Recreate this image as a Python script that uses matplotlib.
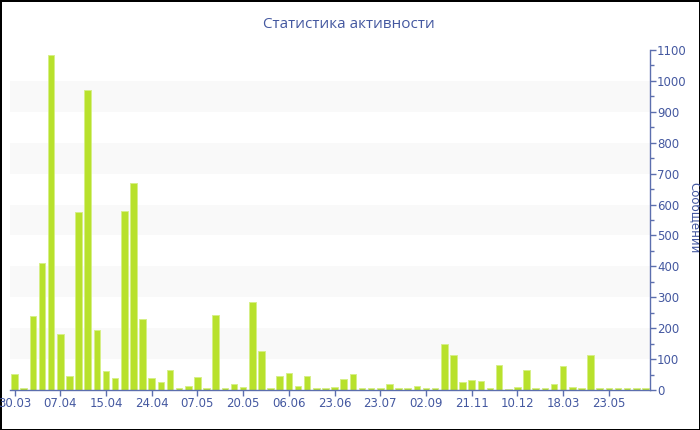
import matplotlib
matplotlib.use("Agg")
import matplotlib.pyplot as plt
from matplotlib.ticker import MultipleLocator
import numpy as np

# messages per period (70 bars)
messages = [52, 6, 239, 410, 1085, 181, 46, 576, 969, 194,
            60, 40, 578, 669, 231, 40, 27, 66, 7, 13,
            42, 6, 244, 5, 19, 9, 284, 125, 7, 46,
            54, 12, 44, 5, 6, 9, 35, 51, 6, 6,
            6, 20, 6, 5, 12, 5, 6, 148, 112, 25,
            32, 28, 6, 82, 4, 9, 65, 5, 7, 20,
            77, 9, 5, 114, 5, 5, 5, 5, 5, 7]
# only every 5th bar carries a label
tick_labels = ["30.03", "07.04", "15.04", "24.04", "07.05", "20.05", "06.06",
               "23.06", "23.07", "02.09", "21.11", "10.12", "18.03", "23.05"]
title = "Статистика активности"
y_title = "Сообщений"

blue = "#4458a0"
axis_blue = "#5c6fae"
bar_green = "#b8e12c"

fig = plt.figure(figsize=(7, 4.3), dpi=100)
fig.patch.set_facecolor("white")
fig.patch.set_edgecolor("black")
fig.patch.set_linewidth(2)

ax = fig.add_axes([10 / 700, 1 - 390 / 430, 640 / 700, 340 / 430])

# alternating light bands
for lo in range(100, 1100, 200):
    ax.axhspan(lo, lo + 100, color="#f9f9f9", zorder=0, lw=0)

x = np.arange(len(messages))
ax.bar(x, messages, width=0.72, color=bar_green, edgecolor="#d6ef88",
       linewidth=0.7, zorder=2)

ax.set_xlim(-0.5, len(messages) - 0.5)
ax.set_ylim(0, 1100)

ax.set_xticks(x[::5][:len(tick_labels)])
ax.set_xticklabels(tick_labels)

ax.yaxis.tick_right()
ax.yaxis.set_label_position("right")
ax.yaxis.set_major_locator(MultipleLocator(100))
ax.yaxis.set_minor_locator(MultipleLocator(50))

for side in ["left", "top"]:
    ax.spines[side].set_visible(False)
for side in ["right", "bottom"]:
    ax.spines[side].set_color(axis_blue)
    ax.spines[side].set_linewidth(1)

ax.tick_params(axis="x", colors=axis_blue, labelcolor=blue, labelsize=8.5,
               length=4, width=1, pad=1)
ax.tick_params(axis="y", which="major", colors=axis_blue, labelcolor=blue,
               labelsize=8.5, length=4, width=1, pad=1)
ax.tick_params(axis="y", which="minor", colors=axis_blue, length=3, width=1)
ax.set_facecolor("white")

fig.text(349 / 700, 1 - 25 / 430, title, ha="center", va="center",
         color=blue, fontsize=11, family="Open Sans")
fig.text(695 / 700, 1 - 218 / 430, y_title, ha="center", va="center",
         rotation=270, color=blue, fontsize=8.5)

fig.savefig("out.png", dpi=100, facecolor=fig.get_facecolor(),
            edgecolor=fig.get_edgecolor())
